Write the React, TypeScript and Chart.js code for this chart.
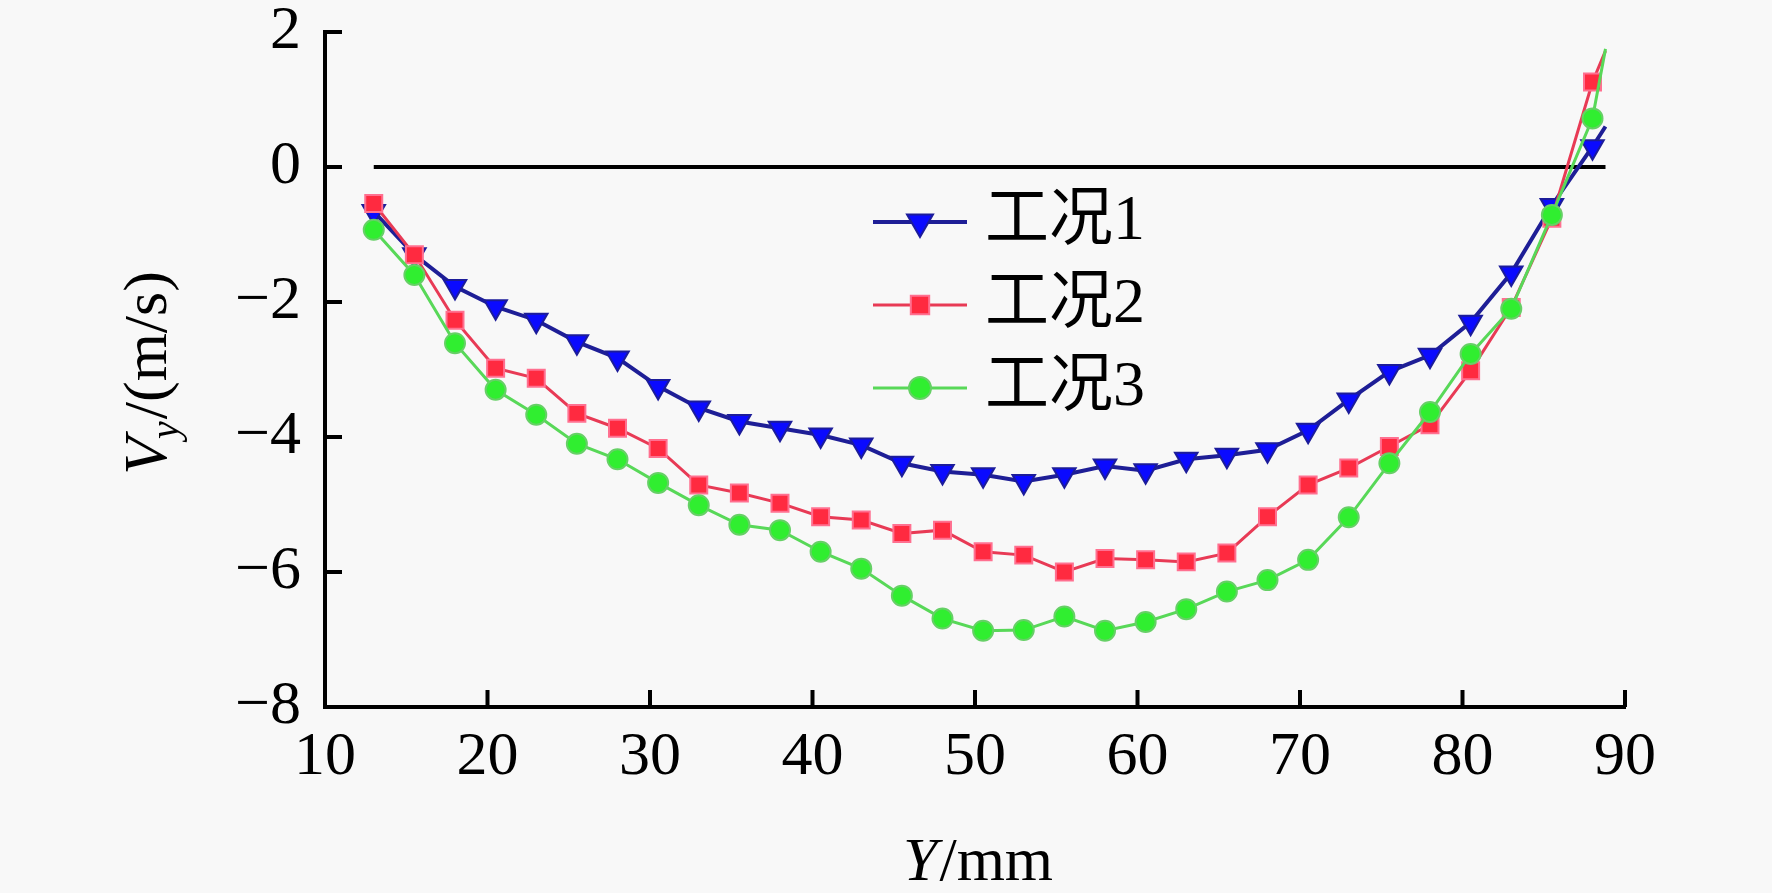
import React, { useEffect, useRef } from 'react';
import { Chart, registerables } from 'chart.js';
import { drawPoint } from 'chart.js/helpers';

Chart.register(...registerables);

// ---- data ----
const Y_POS = [13, 15.5, 18, 20.5, 23, 25.5, 28, 30.5, 33, 35.5, 38, 40.5, 43, 45.5, 48, 50.5, 53, 55.5, 58, 60.5, 63, 65.5, 68, 70.5, 73, 75.5, 78, 80.5, 83, 85.5, 88, 88.8];
const CASE1 = [-0.66, -1.3, -1.77, -2.07, -2.27, -2.59, -2.83, -3.25, -3.57, -3.77, -3.87, -3.97, -4.12, -4.39, -4.51, -4.56, -4.66, -4.56, -4.43, -4.5, -4.33, -4.27, -4.19, -3.9, -3.45, -3.03, -2.79, -2.3, -1.57, -0.57, 0.3, 0.6];
const CASE2 = [-0.54, -1.3, -2.27, -2.98, -3.13, -3.65, -3.87, -4.17, -4.71, -4.83, -4.98, -5.18, -5.23, -5.43, -5.38, -5.7, -5.75, -6.0, -5.8, -5.82, -5.85, -5.72, -5.18, -4.71, -4.46, -4.14, -3.82, -3.02, -2.08, -0.76, 1.26, 1.72];
const CASE3 = [-0.93, -1.6, -2.61, -3.3, -3.67, -4.1, -4.33, -4.68, -5.01, -5.3, -5.38, -5.7, -5.95, -6.35, -6.69, -6.87, -6.86, -6.66, -6.87, -6.74, -6.55, -6.29, -6.12, -5.82, -5.19, -4.39, -3.63, -2.77, -2.1, -0.71, 0.72, 1.75];
const SERIES_NAMES = ['工况1', '工况2', '工况3'];
const ZERO_LINE_X = [13, 88.8];
const ZERO_LINE_Y = [0, 0];
const X_MIN = 10;
const X_MAX = 90;
const X_STEP = 10;
const Y_MIN = -8;
const Y_MAX = 2;
const Y_STEP = 2;

const SERIF = "'Liberation Serif', 'Times New Roman', serif";
const CJK = "'Liberation Serif', 'Noto Sans CJK SC', serif";

const toPoints = (xs: number[], ys: number[]) => xs.map((x, i) => ({ x, y: ys[i] }));

const STYLES = [
  { line: '#1e1e96', fill: '#0a0aff', border: '#1c1c9a', style: 'triangle', rotation: 180, radius: 13, legendRadius: 15, width: 4 },
  { line: '#e83a55', fill: '#ff2a40', border: '#ff7090', style: 'rect', rotation: 0, radius: 12, legendRadius: 13, width: 3 },
  { line: '#58d858', fill: '#30ee30', border: '#66d066', style: 'circle', rotation: 0, radius: 10, legendRadius: 11, width: 3 },
];

const decorPlugin = {
  id: 'decor',
  beforeDraw(chart: any) {
    const { ctx, width, height } = chart;
    ctx.save();
    ctx.fillStyle = '#f8f8f8';
    ctx.fillRect(0, 0, width, height);
    ctx.restore();
  },
  afterDraw(chart: any) {
    const { ctx, chartArea } = chart;
    const xs = chart.scales.x;
    const ys = chart.scales.y;
    ctx.save();
    // inward tick marks
    ctx.strokeStyle = '#000';
    ctx.lineWidth = 4;
    ctx.beginPath();
    for (let v = Y_MIN; v <= Y_MAX; v += Y_STEP) {
      const py = ys.getPixelForValue(v);
      ctx.moveTo(chartArea.left, py);
      ctx.lineTo(chartArea.left + 17, py);
    }
    for (let v = X_MIN; v <= X_MAX; v += X_STEP) {
      const px = xs.getPixelForValue(v);
      ctx.moveTo(px, chartArea.bottom);
      ctx.lineTo(px, chartArea.bottom - 17);
    }
    ctx.stroke();

    // legend
    const lx0 = 873, lx1 = 967, tx = 985;
    const rowY = [222, 305, 388];
    for (let i = 0; i < 3; i++) {
      const st = STYLES[i];
      const y = rowY[i];
      ctx.strokeStyle = st.line;
      ctx.lineWidth = st.width;
      ctx.beginPath();
      ctx.moveTo(lx0, y);
      ctx.lineTo(lx1, y);
      ctx.stroke();
      ctx.fillStyle = st.fill;
      ctx.strokeStyle = st.border;
      ctx.lineWidth = 2;
      drawPoint(ctx, { pointStyle: st.style, radius: st.legendRadius, rotation: st.rotation, borderWidth: 2 } as any, (lx0 + lx1) / 2, y);
      ctx.fillStyle = '#000';
      ctx.font = `64px ${CJK}`;
      ctx.textAlign = 'left';
      ctx.textBaseline = 'middle';
      ctx.fillText(SERIES_NAMES[i], tx, y);
    }

    // x axis title: Y/mm
    ctx.fillStyle = '#000';
    ctx.textBaseline = 'alphabetic';
    ctx.textAlign = 'left';
    const fItal = `italic 62px ${SERIF}`;
    const fRom = `62px ${SERIF}`;
    ctx.font = fItal;
    const wY = ctx.measureText('Y').width;
    ctx.font = fRom;
    const wMm = ctx.measureText('/mm').width;
    const cx = (chartArea.left + chartArea.right) / 2 + 2;
    const bx = 880;
    const sx = cx - (wY + wMm) / 2;
    ctx.font = fItal;
    ctx.fillText('Y', sx, bx);
    ctx.font = fRom;
    ctx.fillText('/mm', sx + wY + 2, bx);

    // y axis title: Vy/(m/s)
    ctx.save();
    ctx.translate(166, 373);
    ctx.rotate(-Math.PI / 2);
    ctx.font = fItal;
    const wV = ctx.measureText('V').width;
    const fSub = `italic 40px ${SERIF}`;
    ctx.font = fSub;
    const wy = ctx.measureText('y').width;
    ctx.font = fRom;
    const wRest = ctx.measureText('/(m/s)').width;
    const total = wV + wy + wRest;
    let px = -total / 2;
    ctx.font = fItal;
    ctx.fillText('V', px, 0);
    px += wV - 2;
    ctx.font = fSub;
    ctx.fillText('y', px, 12);
    px += wy + 2;
    ctx.font = fRom;
    ctx.fillText('/(m/s)', px, 0);
    ctx.restore();

    ctx.restore();
  },
};

export default function App() {
  const ref = useRef<HTMLCanvasElement | null>(null);
  useEffect(() => {
    document.body.style.margin = '0';
    document.body.style.background = '#f8f8f8';
    const canvas = ref.current;
    if (!canvas) return;
    const seriesData = [CASE1, CASE2, CASE3];
    const datasets: any[] = seriesData.map((ys, i) => {
      const st = STYLES[i];
      const last = ys.length - 1;
      return {
        label: SERIES_NAMES[i],
        data: toPoints(Y_POS, ys),
        borderColor: st.line,
        borderWidth: st.width,
        backgroundColor: st.fill,
        pointBackgroundColor: st.fill,
        pointBorderColor: st.border,
        pointBorderWidth: 2,
        pointStyle: st.style,
        pointRotation: st.rotation,
        pointRadius: (c: any) => (c.dataIndex === last ? 0 : st.radius),
        tension: 0,
        fill: false,
        order: 3 - i,
      };
    });
    datasets.push({
      label: 'zero',
      data: toPoints(ZERO_LINE_X, ZERO_LINE_Y),
      borderColor: '#000',
      borderWidth: 4,
      pointRadius: 0,
      fill: false,
      order: 10,
    });
    const chart = new Chart(canvas, {
      type: 'line',
      data: { datasets },
      options: {
        animation: false,
        responsive: false,
        devicePixelRatio: 1,
        layout: { padding: { left: 0, right: 147, top: 32, bottom: 0 } },
        plugins: { legend: { display: false }, tooltip: { enabled: false } },
        scales: {
          x: {
            type: 'linear',
            min: X_MIN,
            max: X_MAX,
            afterFit: (s: any) => { s.height = 186; s.paddingLeft = 0; s.paddingRight = 0; },
            grid: { display: false, drawTicks: false },
            border: { display: true, color: '#000', width: 4 },
            ticks: {
              stepSize: X_STEP,
              color: '#000',
              padding: 20,
              maxRotation: 0,
              font: { family: SERIF, size: 62, lineHeight: 1 },
              callback: (v: any) => String(v).replace('-', '\u2212'),
            },
          },
          y: {
            type: 'linear',
            min: Y_MIN,
            max: Y_MAX,
            afterFit: (s: any) => { s.width = 325; s.paddingTop = 0; s.paddingBottom = 0; },
            grid: { display: false, drawTicks: false },
            border: { display: true, color: '#000', width: 4 },
            ticks: {
              stepSize: Y_STEP,
              color: '#000',
              padding: 24,
              font: { family: SERIF, size: 62, lineHeight: 1 },
              callback: (v: any) => String(v).replace('-', '\u2212'),
            },
          },
        },
      },
      plugins: [decorPlugin],
    });
    return () => chart.destroy();
  }, []);
  return (
    <div style={{ width: 1772, height: 893, background: '#f8f8f8' }}>
      <canvas ref={ref} width={1772} height={893} style={{ display: 'block', width: 1772, height: 893 }} />
    </div>
  );
}
